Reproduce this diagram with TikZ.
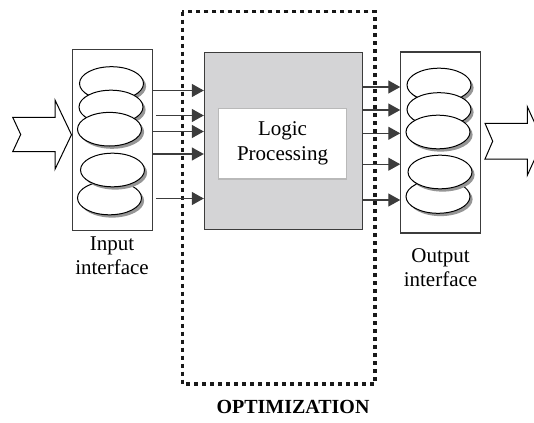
\documentclass[tikz,border=0pt]{standalone}
\usepackage{fontspec}
\setmainfont{Liberation Serif}
\usetikzlibrary{arrows.meta}
\definecolor{procgray}{RGB}{212,212,214}
\definecolor{shadowgray}{RGB}{150,150,150}
\definecolor{edgegray}{RGB}{60,60,60}
\definecolor{innergray}{RGB}{185,185,185}
\tikzset{
  iface/.style={draw=edgegray, line width=1.1pt, fill=white, minimum width=80pt, minimum height=181pt, inner sep=0pt},
  cell/.style={draw=black, line width=1pt, fill=white, ellipse shape},
  ellipse shape/.style={},
  signal/.style={-{Triangle[length=12pt,width=13pt]}, line width=1.3pt, draw=edgegray, color=edgegray},
  blockarrow/.style={draw=black, line width=1pt, fill=white, line join=miter},
  label/.style={font=\fontsize{21pt}{24pt}\selectfont, align=center},
  optbox/.style={draw=black!90, line width=3.6pt, dash pattern=on 4pt off 4pt},
}
% one storage cell: a drop shadow, then the white ellipse on top
\newcommand{\storecell}[2]{%
  \fill[shadowgray] (#1+2.6,#2+2.8) ellipse [x radius=32pt, y radius=16.8pt];
  \filldraw[cell] (#1,#2) ellipse [x radius=32pt, y radius=16.8pt];
}
\begin{document}
\begin{tikzpicture}[x=1pt,y=-1pt]
\useasboundingbox (0,0) rectangle (534,422);
\clip (0,0) rectangle (534,422);

% optimisation boundary
\draw[optbox] (182.3,11.7) rectangle (375,384);
\node[font=\bfseries\fontsize{20pt}{24pt}\selectfont] (opt) at (293,407) {OPTIMIZATION};

% interfaces
\node[iface] (inbox) at (112.5,139.6) {};
\node[iface] (outbox) at (440.8,142.5) {};

% processing block
\node[draw=edgegray, line width=1pt, fill=procgray, minimum width=158pt, minimum height=177pt, inner sep=0pt] (logic) at (283.3,140.6) {};
\node[draw=innergray, line width=1.2pt, fill=white, minimum width=128.4pt, minimum height=70.7pt, inner sep=0pt,
      font=\fontsize{21pt}{25pt}\selectfont, align=center] (lp) at (282.5,143.6) {Logic\\Processing};

% input cells
\storecell{111.5}{83.5}
\storecell{111}{107}
\storecell{109.5}{129.2}
\storecell{109.5}{198}
\storecell{112.5}{170}

% output cells
\storecell{439}{85}
\storecell{439}{109.5}
\storecell{438}{132}
\storecell{438}{196.5}
\storecell{440}{172}

% labels
\node[label] (inlab) at (112,256) {Input\\interface};
\node[label] (outlab) at (440.5,268) {Output\\interface};

% signal rows
\foreach \n/\y in {1/90.5,2/115.5,3/131.5,4/154,5/198.5} \coordinate (ir\n) at (0,\y);
\foreach \n/\y in {1/87,2/110,3/133.3,4/164.2,5/200} \coordinate (or\n) at (0,\y);

\draw[signal] (inbox.east |- ir1) -- (logic.west |- ir1);
\draw[signal] ([xshift=2.7pt]inbox.east |- ir2) -- (logic.west |- ir2);
\draw[signal] (inbox.east |- ir3) -- (logic.west |- ir3);
\draw[signal] (inbox.east |- ir4) -- (logic.west |- ir4);
\draw[signal] ([xshift=2.7pt]inbox.east |- ir5) -- (logic.west |- ir5);
\foreach \n in {1,...,5}
  \draw[signal] (logic.east |- or\n) -- (outbox.west |- or\n);

% data flowing in and out
\draw[blockarrow] (12.7,117.3) -- (55,117.3) -- (55,100) -- (71.5,134.7) -- (55,169.3)
  -- (55,151.7) -- (12.7,151.7) -- (20.7,134.5) -- cycle;
\draw[blockarrow] (485,123.3) -- (527.3,123.3) -- (527.3,106.7) -- (543,141) -- (527.3,175.3)
  -- (527.3,159) -- (485,159) -- (492.7,141.2) -- cycle;
\end{tikzpicture}
\end{document}
